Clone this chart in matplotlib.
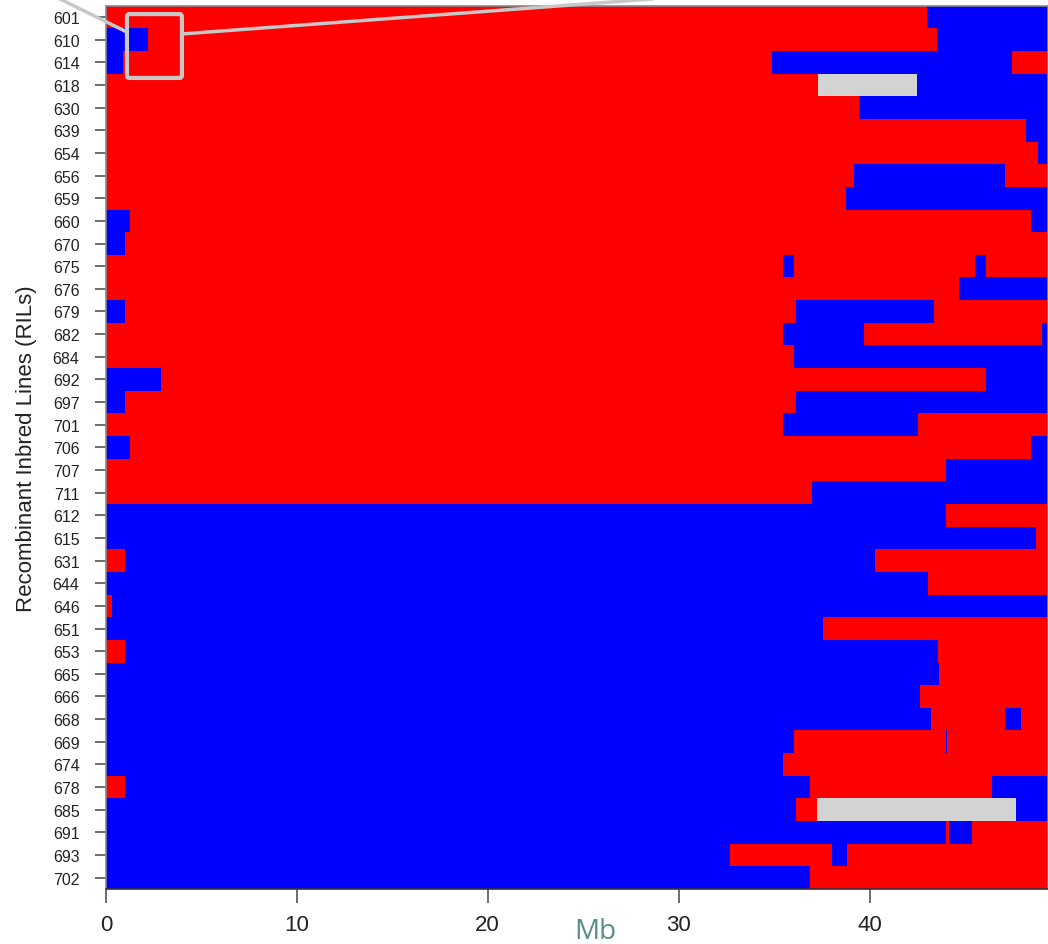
import matplotlib
matplotlib.use('Agg')
import matplotlib.pyplot as plt
from matplotlib.patches import FancyBboxPatch
from matplotlib.lines import Line2D

plt.rcParams['font.family'] = ['Liberation Sans', 'DejaVu Sans']

# RIL ids, top to bottom
ril_ids = ['601', '610', '614', '618', '630', '639', '654', '656', '659', '660',
           '670', '675', '676', '679', '682', '684', '692', '697', '701', '706',
           '707', '711', '612', '615', '631', '644', '646', '651', '653', '665',
           '666', '668', '669', '674', '678', '685', '691', '693', '702']

# breakpoints (Mb) between genotype blocks for each RIL
breakpoints = [
    [43.0], [2.2, 43.55], [0.9, 34.87, 47.44], [37.31, 42.47], [39.43],
    [48.19], [48.81], [39.18, 47.11], [38.76], [1.26, 48.47],
    [1.0], [35.46, 36.06, 45.51, 46.1], [44.68], [1.0, 36.14, 43.39],
    [35.46, 39.69, 49.05], [36.06], [2.87, 46.1], [1.0, 36.14],
    [35.46, 42.55], [1.26, 48.47], [43.99], [36.98],
    [43.99], [48.72], [1.0, 40.28], [43.06], [0.33], [37.57],
    [1.0, 43.57], [43.65], [42.64], [43.23, 47.11, 47.95],
    [36.06, 43.99, 44.05], [35.46], [1.0, 36.89, 46.43],
    [36.14, 37.23, 47.68], [43.99, 44.17, 45.35], [32.69, 38.01, 38.82],
    [36.89],
]

# genotype of each block: R = red parent, B = blue parent, N = missing
genotypes = [
    'RB', 'BRB', 'BRBR', 'RNB', 'RB', 'RB', 'RB', 'RBR', 'RB', 'BRB',
    'BR', 'RBRBR', 'RB', 'BRBR', 'RBRB', 'RB', 'BRB', 'BRB', 'RBR', 'BRB',
    'RB', 'RB', 'BR', 'BR', 'RBR', 'BR', 'RB', 'BR', 'RBR', 'BR',
    'BR', 'BRBR', 'BRBR', 'BR', 'RBRB', 'BRNB', 'BRBR', 'BRBR', 'BR',
]

chrom_end = 49.5
xticks = [0, 10, 20, 30, 40]
colors = {'R': '#ff0000', 'B': '#0000ff', 'N': '#d3d3d3'}

fig = plt.figure(figsize=(10.48, 9.45), dpi=100)
ax = fig.add_axes([0.1011, 0.0582, 0.8989, 0.9347])

for i, (bps, gt) in enumerate(zip(breakpoints, genotypes)):
    edges = [0.0] + bps + [chrom_end]
    for j, g in enumerate(gt):
        ax.broken_barh([(edges[j], edges[j + 1] - edges[j])], (i - 0.5, 1.0),
                       facecolors=colors[g], edgecolor='none')

ax.set_xlim(0, 49.35)
ax.set_ylim(len(ril_ids) - 0.5, -0.5)
ax.set_yticks(range(len(ril_ids)))
ax.set_yticklabels(ril_ids, fontsize=11.5, color='#222222')
ax.set_xticks(xticks)
ax.set_xticklabels([str(t) for t in xticks], fontsize=16, color='#222222')
ax.tick_params(axis='y', length=8, width=1.2, color='#555555', pad=11)
ax.tick_params(axis='x', length=10, width=1.2, color='#555555', pad=8)
for s in ax.spines.values():
    s.set_color('#888888')
    s.set_linewidth(1.2)
ax.spines['bottom'].set_color('#333333')

ax.set_ylabel('Recombinant Inbred Lines (RILs)', fontsize=16, color='#222222', labelpad=11)
fig.text(595 / 1048, 1 - 932 / 945, 'Mb', fontsize=20, color='#5b8a8b',
         family=['Open Sans', 'DejaVu Sans'], ha='center', va='center')

# zoom box and connector lines
box = FancyBboxPatch((1.1, -0.13), 2.88, 2.82, boxstyle='round,pad=0,rounding_size=0.12',
                     fill=False, edgecolor='#c8c8c8', linewidth=3, clip_on=False, zorder=5)
ax.add_patch(box)
fig.add_artist(Line2D([0.0573, 0.1212], [1.0, 0.965], color='#c8c8c8', linewidth=2.5))
fig.add_artist(Line2D([0.1735, 0.622], [0.963, 1.0], color='#c8c8c8', linewidth=2.5))

fig.savefig('out.png', dpi=100)
